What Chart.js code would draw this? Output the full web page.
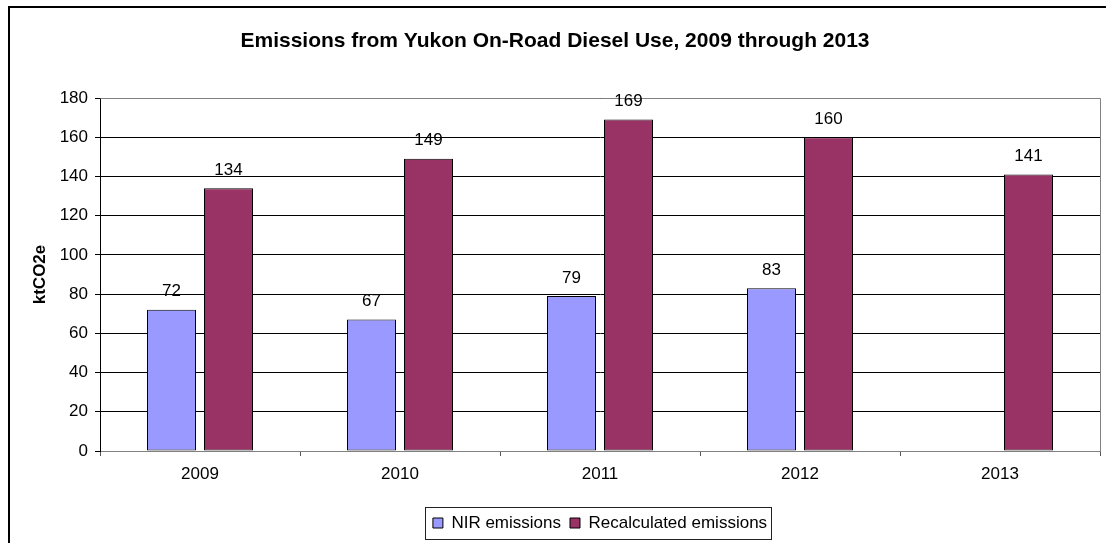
<!DOCTYPE html>
<html>
<head>
<meta charset="utf-8">
<script src="https://cdn.jsdelivr.net/npm/chart.js@4.4.1/dist/chart.umd.min.js"></script>
<style>
  html, body { margin: 0; padding: 0; background: #fff; }
  #wrap { width: 1106px; height: 543px; }
</style>
</head>
<body>
<div id="wrap"><canvas id="chart" width="1106" height="543"></canvas></div>
<script>
// values
var years = ['2009', '2010', '2011', '2012', '2013'];
var nirEmissions = [72, 67, 79, 83, null];
var recalcEmissions = [134, 149, 169, 160, 141];
var yTicks = [0, 20, 40, 60, 80, 100, 120, 140, 160, 180];

Chart.defaults.font.family = '"Liberation Sans", Arial, sans-serif';
Chart.defaults.color = '#000';

// frame round the picture, gray plot box, value labels, legend box
var extras = {
  id: 'extras',
  beforeDraw: function (chart) {
    var ctx = chart.ctx;
    ctx.save();
    ctx.strokeStyle = '#000';
    ctx.lineWidth = 2;
    ctx.beginPath();
    ctx.moveTo(9, chart.height);
    ctx.lineTo(9, 7);
    ctx.lineTo(chart.width, 7);
    ctx.stroke();
    ctx.restore();
  },
  afterDatasetsDraw: function (chart) {
    var ctx = chart.ctx;
    var a = chart.chartArea;
    ctx.save();
    ctx.strokeStyle = '#808080';
    ctx.lineWidth = 1;
    ctx.beginPath();
    ctx.moveTo(Math.round(a.left) + 0.5, Math.round(a.top) + 0.5);
    ctx.lineTo(Math.round(a.right) + 0.5, Math.round(a.top) + 0.5);
    ctx.lineTo(Math.round(a.right) + 0.5, Math.round(a.bottom) + 0.5);
    ctx.stroke();

    ctx.fillStyle = '#000';
    ctx.font = '17px "Liberation Sans", Arial, sans-serif';
    ctx.textAlign = 'center';
    ctx.textBaseline = 'middle';
    chart.data.datasets.forEach(function (ds, i) {
      chart.getDatasetMeta(i).data.forEach(function (bar, j) {
        if (ds.data[j] == null) return;
        ctx.fillText(ds.data[j], bar.x, bar.y - 18);
      });
    });

    var boxes = chart.legend.legendHitBoxes;
    if (boxes && boxes.length) {
      var first = boxes[0], last = boxes[boxes.length - 1];
      var l = Math.round(first.left) - 7.5;
      var r = Math.round(last.left + last.width) + 4.5;
      var t = Math.round(first.top) - 7.5;
      var b = Math.round(first.top + first.height) + 7.5;
      ctx.strokeStyle = '#222';
      ctx.strokeRect(l, t, r - l, b - t);
    }
    ctx.restore();
  }
};

new Chart(document.getElementById('chart'), {
  type: 'bar',
  data: {
    labels: years,
    datasets: [{
      label: 'NIR emissions',
      data: nirEmissions,
      backgroundColor: '#9999FF',
      borderColor: '#000',
      borderWidth: 1,
      borderSkipped: false,
      categoryPercentage: 0.57,
      barPercentage: 49 / 57
    }, {
      label: 'Recalculated emissions',
      data: recalcEmissions,
      backgroundColor: '#993366',
      borderColor: '#000',
      borderWidth: 1,
      borderSkipped: false,
      categoryPercentage: 0.57,
      barPercentage: 49 / 57
    }]
  },
  options: {
    responsive: false,
    animation: false,
    layout: { padding: { left: 10, top: 8, right: 6, bottom: 1.5 } },
    plugins: {
      title: {
        display: true,
        text: 'Emissions from Yukon On-Road Diesel Use, 2009 through 2013',
        font: { size: 21, weight: 'bold' },
        color: '#000',
        padding: { top: 21, bottom: 43.8 }
      },
      legend: {
        position: 'bottom',
        fullSize: false,
        maxHeight: 36,
        labels: {
          boxWidth: 10,
          boxHeight: 10,
          padding: 9,
          color: '#000',
          font: { size: 17 }
        }
      },
      tooltip: { enabled: false }
    },
    scales: {
      x: {
        grid: {
          offset: true,
          drawOnChartArea: false,
          drawTicks: true,
          tickLength: 5,
          color: '#555'
        },
        border: { color: '#808080' },
        ticks: { font: { size: 17 }, color: '#000', padding: 8 },
        afterFit: function (scale) { scale.height = 54.5; }
      },
      y: {
        min: 0,
        max: 180,
        afterBuildTicks: function (scale) {
          scale.ticks = yTicks.map(function (v) { return { value: v }; });
        },
        grid: { color: '#000', tickLength: 5 },
        border: { color: '#000' },
        ticks: { font: { size: 17 }, color: '#000', padding: 7 },
        title: {
          display: true,
          text: 'ktCO2e',
          font: { size: 17, weight: 'bold' },
          color: '#000',
          padding: { top: 20, bottom: 0 }
        },
        afterFit: function (scale) { scale.width = 90; }
      }
    }
  },
  plugins: [extras]
});
</script>
</body>
</html>
